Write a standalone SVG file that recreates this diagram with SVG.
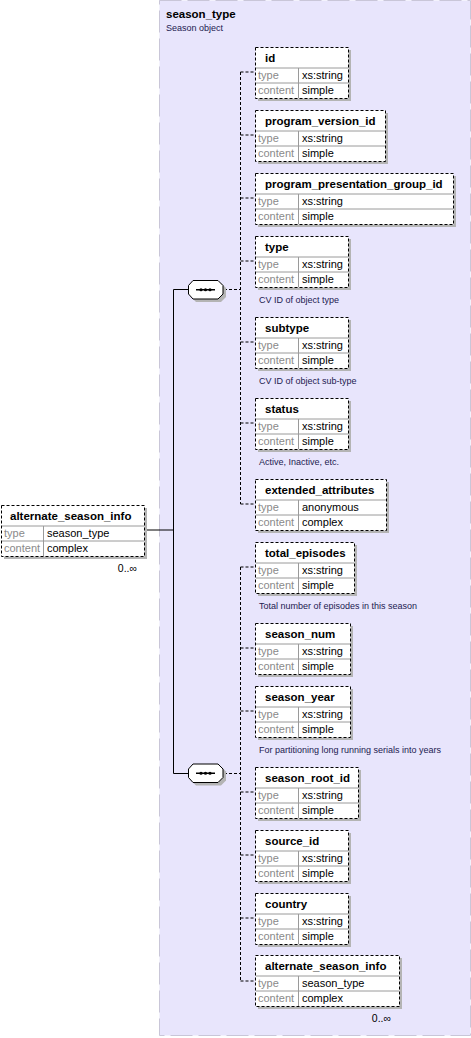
<svg xmlns="http://www.w3.org/2000/svg" width="471" height="1038" viewBox="0 0 471 1038">
<style>
text{font-family:"Liberation Sans",Arial,sans-serif}
.panel{fill:#E8E5FC;stroke:#C9C6D8;stroke-width:1;stroke-dasharray:22,6}
.shadow{fill:#B4B4B4}
.box{fill:#FFFFFF;stroke:#000;stroke-width:1;stroke-dasharray:3,2}
.sep{stroke:#9A9A9A;stroke-width:1}
.title{font-size:11.5px;font-weight:bold;fill:#000}
.lbl{font-size:11px;fill:#8A8A8A}
.val{font-size:11px;fill:#000}
.desc{font-size:9px;fill:#1C2050}
.occ{font-size:10.5px;fill:#000}
.solid{stroke:#000;stroke-width:1;fill:none}
.dash{stroke:#000;stroke-width:1;fill:none;stroke-dasharray:3,2}
.seq{fill:#FFFFFF;stroke:#000;stroke-width:1}
</style>
<defs>
<g id="seqsym">
<polygon class="shadow" points="8,3 33,3 38,8 38,17 33,22 8,22 3,17 3,8"/>
<polygon class="seq" points="5,0.5 30,0.5 35,5.5 35,14 30,19 5,19 0.5,14 0.5,5.5"/>
<line x1="8" y1="9.75" x2="27" y2="9.75" stroke="#000" stroke-width="1.5"/>
<circle cx="13" cy="9.75" r="1.6" fill="#000"/>
<circle cx="17.5" cy="9.75" r="1.6" fill="#000"/>
<circle cx="22" cy="9.75" r="1.6" fill="#000"/>
</g>
</defs>
<rect width="471" height="1038" fill="#FFFFFF"/>
<g id="season_type">
<rect class="panel" x="159.5" y="0.5" width="311" height="1035"/>
<text class="title" x="166" y="18">season_type</text>
<text class="desc" x="166" y="31">Season object</text>
</g>
<g id="connectors">
<polyline class="solid" points="144,530 173.5,530"/>
<line class="solid" x1="173.5" y1="289.5" x2="173.5" y2="773.5"/>
<line class="solid" x1="173.5" y1="289.5" x2="188" y2="289.5"/>
<line class="solid" x1="173.5" y1="773.5" x2="188" y2="773.5"/>
<line class="dash" x1="224" y1="289.5" x2="240.5" y2="289.5"/>
<line class="dash" x1="224" y1="773.5" x2="240.5" y2="773.5"/>
<line class="dash" x1="240.5" y1="72" x2="240.5" y2="504"/>
<line class="dash" x1="240.5" y1="567" x2="240.5" y2="981"/>
<line class="dash" x1="240.5" y1="72" x2="255" y2="72"/>
<line class="dash" x1="240.5" y1="135" x2="255" y2="135"/>
<line class="dash" x1="240.5" y1="198" x2="255" y2="198"/>
<line class="dash" x1="240.5" y1="261" x2="255" y2="261"/>
<line class="dash" x1="240.5" y1="342" x2="255" y2="342"/>
<line class="dash" x1="240.5" y1="423" x2="255" y2="423"/>
<line class="dash" x1="240.5" y1="504" x2="255" y2="504"/>
<line class="dash" x1="240.5" y1="567" x2="255" y2="567"/>
<line class="dash" x1="240.5" y1="648" x2="255" y2="648"/>
<line class="dash" x1="240.5" y1="711" x2="255" y2="711"/>
<line class="dash" x1="240.5" y1="792" x2="255" y2="792"/>
<line class="dash" x1="240.5" y1="855" x2="255" y2="855"/>
<line class="dash" x1="240.5" y1="918" x2="255" y2="918"/>
<line class="dash" x1="240.5" y1="981" x2="255" y2="981"/>
</g>
<g id="sequence1"><use href="#seqsym" x="188" y="280"/></g>
<g id="sequence2"><use href="#seqsym" x="188" y="763.5"/></g>

<g id="node_alternate_root" transform="translate(1,505)">
<rect class="shadow" x="3" y="3" width="143" height="51"/>
<rect class="box" x="0.5" y="0.5" width="143" height="51"/>
<line class="sep" x1="1" y1="21" x2="143" y2="21"/><line class="sep" x1="1" y1="36" x2="143" y2="36"/><line class="sep" x1="42.5" y1="21" x2="42.5" y2="51"/>
<text class="title" x="9" y="15">alternate_season_info</text>
<text class="lbl" x="3" y="32">type</text><text class="val" x="46" y="32">season_type</text>
<text class="lbl" x="3" y="47">content</text><text class="val" x="46" y="47">complex</text>
<text class="occ" x="136" y="67" text-anchor="end">0..∞</text>
</g>

<g id="node_id" transform="translate(255,47)">
<rect class="shadow" x="3" y="3" width="93" height="51"/>
<rect class="box" x="0.5" y="0.5" width="93" height="51"/>
<line class="sep" x1="1" y1="21" x2="93" y2="21"/><line class="sep" x1="1" y1="36" x2="93" y2="36"/><line class="sep" x1="43.5" y1="21" x2="43.5" y2="51"/>
<text class="title" x="10" y="15">id</text>
<text class="lbl" x="3" y="32">type</text><text class="val" x="47" y="32">xs:string</text>
<text class="lbl" x="3" y="47">content</text><text class="val" x="47" y="47">simple</text>
</g>

<g id="node_program_version_id" transform="translate(255,110)">
<rect class="shadow" x="3" y="3" width="130" height="51"/>
<rect class="box" x="0.5" y="0.5" width="130" height="51"/>
<line class="sep" x1="1" y1="21" x2="130" y2="21"/><line class="sep" x1="1" y1="36" x2="130" y2="36"/><line class="sep" x1="43.5" y1="21" x2="43.5" y2="51"/>
<text class="title" x="10" y="15">program_version_id</text>
<text class="lbl" x="3" y="32">type</text><text class="val" x="47" y="32">xs:string</text>
<text class="lbl" x="3" y="47">content</text><text class="val" x="47" y="47">simple</text>
</g>

<g id="node_program_presentation_group_id" transform="translate(255,173)">
<rect class="shadow" x="3" y="3" width="198" height="51"/>
<rect class="box" x="0.5" y="0.5" width="198" height="51"/>
<line class="sep" x1="1" y1="21" x2="198" y2="21"/><line class="sep" x1="1" y1="36" x2="198" y2="36"/><line class="sep" x1="43.5" y1="21" x2="43.5" y2="51"/>
<text class="title" x="10" y="15">program_presentation_group_id</text>
<text class="lbl" x="3" y="32">type</text><text class="val" x="47" y="32">xs:string</text>
<text class="lbl" x="3" y="47">content</text><text class="val" x="47" y="47">simple</text>
</g>

<g id="node_type" transform="translate(255,236)">
<rect class="shadow" x="3" y="3" width="93" height="51"/>
<rect class="box" x="0.5" y="0.5" width="93" height="51"/>
<line class="sep" x1="1" y1="21" x2="93" y2="21"/><line class="sep" x1="1" y1="36" x2="93" y2="36"/><line class="sep" x1="43.5" y1="21" x2="43.5" y2="51"/>
<text class="title" x="10" y="15">type</text>
<text class="lbl" x="3" y="32">type</text><text class="val" x="47" y="32">xs:string</text>
<text class="lbl" x="3" y="47">content</text><text class="val" x="47" y="47">simple</text>
<text class="desc" x="4" y="67">CV ID of object type</text>
</g>

<g id="node_subtype" transform="translate(255,317)">
<rect class="shadow" x="3" y="3" width="93" height="51"/>
<rect class="box" x="0.5" y="0.5" width="93" height="51"/>
<line class="sep" x1="1" y1="21" x2="93" y2="21"/><line class="sep" x1="1" y1="36" x2="93" y2="36"/><line class="sep" x1="43.5" y1="21" x2="43.5" y2="51"/>
<text class="title" x="10" y="15">subtype</text>
<text class="lbl" x="3" y="32">type</text><text class="val" x="47" y="32">xs:string</text>
<text class="lbl" x="3" y="47">content</text><text class="val" x="47" y="47">simple</text>
<text class="desc" x="4" y="67">CV ID of object sub-type</text>
</g>

<g id="node_status" transform="translate(255,398)">
<rect class="shadow" x="3" y="3" width="93" height="51"/>
<rect class="box" x="0.5" y="0.5" width="93" height="51"/>
<line class="sep" x1="1" y1="21" x2="93" y2="21"/><line class="sep" x1="1" y1="36" x2="93" y2="36"/><line class="sep" x1="43.5" y1="21" x2="43.5" y2="51"/>
<text class="title" x="10" y="15">status</text>
<text class="lbl" x="3" y="32">type</text><text class="val" x="47" y="32">xs:string</text>
<text class="lbl" x="3" y="47">content</text><text class="val" x="47" y="47">simple</text>
<text class="desc" x="4" y="67">Active, Inactive, etc.</text>
</g>

<g id="node_extended_attributes" transform="translate(255,479)">
<rect class="shadow" x="3" y="3" width="131" height="51"/>
<rect class="box" x="0.5" y="0.5" width="131" height="51"/>
<line class="sep" x1="1" y1="21" x2="131" y2="21"/><line class="sep" x1="1" y1="36" x2="131" y2="36"/><line class="sep" x1="43.5" y1="21" x2="43.5" y2="51"/>
<text class="title" x="10" y="15">extended_attributes</text>
<text class="lbl" x="3" y="32">type</text><text class="val" x="47" y="32">anonymous</text>
<text class="lbl" x="3" y="47">content</text><text class="val" x="47" y="47">complex</text>
</g>

<g id="node_total_episodes" transform="translate(255,542)">
<rect class="shadow" x="3" y="3" width="99" height="51"/>
<rect class="box" x="0.5" y="0.5" width="99" height="51"/>
<line class="sep" x1="1" y1="21" x2="99" y2="21"/><line class="sep" x1="1" y1="36" x2="99" y2="36"/><line class="sep" x1="43.5" y1="21" x2="43.5" y2="51"/>
<text class="title" x="10" y="15">total_episodes</text>
<text class="lbl" x="3" y="32">type</text><text class="val" x="47" y="32">xs:string</text>
<text class="lbl" x="3" y="47">content</text><text class="val" x="47" y="47">simple</text>
<text class="desc" x="4" y="67">Total number of episodes in this season</text>
</g>

<g id="node_season_num" transform="translate(255,623)">
<rect class="shadow" x="3" y="3" width="95" height="51"/>
<rect class="box" x="0.5" y="0.5" width="95" height="51"/>
<line class="sep" x1="1" y1="21" x2="95" y2="21"/><line class="sep" x1="1" y1="36" x2="95" y2="36"/><line class="sep" x1="43.5" y1="21" x2="43.5" y2="51"/>
<text class="title" x="10" y="15">season_num</text>
<text class="lbl" x="3" y="32">type</text><text class="val" x="47" y="32">xs:string</text>
<text class="lbl" x="3" y="47">content</text><text class="val" x="47" y="47">simple</text>
</g>

<g id="node_season_year" transform="translate(255,686)">
<rect class="shadow" x="3" y="3" width="95" height="51"/>
<rect class="box" x="0.5" y="0.5" width="95" height="51"/>
<line class="sep" x1="1" y1="21" x2="95" y2="21"/><line class="sep" x1="1" y1="36" x2="95" y2="36"/><line class="sep" x1="43.5" y1="21" x2="43.5" y2="51"/>
<text class="title" x="10" y="15">season_year</text>
<text class="lbl" x="3" y="32">type</text><text class="val" x="47" y="32">xs:string</text>
<text class="lbl" x="3" y="47">content</text><text class="val" x="47" y="47">simple</text>
<text class="desc" x="4" y="67">For partitioning long running serials into years</text>
</g>

<g id="node_season_root_id" transform="translate(255,767)">
<rect class="shadow" x="3" y="3" width="103" height="51"/>
<rect class="box" x="0.5" y="0.5" width="103" height="51"/>
<line class="sep" x1="1" y1="21" x2="103" y2="21"/><line class="sep" x1="1" y1="36" x2="103" y2="36"/><line class="sep" x1="43.5" y1="21" x2="43.5" y2="51"/>
<text class="title" x="10" y="15">season_root_id</text>
<text class="lbl" x="3" y="32">type</text><text class="val" x="47" y="32">xs:string</text>
<text class="lbl" x="3" y="47">content</text><text class="val" x="47" y="47">simple</text>
</g>

<g id="node_source_id" transform="translate(255,830)">
<rect class="shadow" x="3" y="3" width="93" height="51"/>
<rect class="box" x="0.5" y="0.5" width="93" height="51"/>
<line class="sep" x1="1" y1="21" x2="93" y2="21"/><line class="sep" x1="1" y1="36" x2="93" y2="36"/><line class="sep" x1="43.5" y1="21" x2="43.5" y2="51"/>
<text class="title" x="10" y="15">source_id</text>
<text class="lbl" x="3" y="32">type</text><text class="val" x="47" y="32">xs:string</text>
<text class="lbl" x="3" y="47">content</text><text class="val" x="47" y="47">simple</text>
</g>

<g id="node_country" transform="translate(255,893)">
<rect class="shadow" x="3" y="3" width="93" height="51"/>
<rect class="box" x="0.5" y="0.5" width="93" height="51"/>
<line class="sep" x1="1" y1="21" x2="93" y2="21"/><line class="sep" x1="1" y1="36" x2="93" y2="36"/><line class="sep" x1="43.5" y1="21" x2="43.5" y2="51"/>
<text class="title" x="10" y="15">country</text>
<text class="lbl" x="3" y="32">type</text><text class="val" x="47" y="32">xs:string</text>
<text class="lbl" x="3" y="47">content</text><text class="val" x="47" y="47">simple</text>
</g>

<g id="node_alternate_season_info" transform="translate(255,955)">
<rect class="shadow" x="3" y="3" width="144" height="51"/>
<rect class="box" x="0.5" y="0.5" width="144" height="51"/>
<line class="sep" x1="1" y1="21" x2="144" y2="21"/><line class="sep" x1="1" y1="36" x2="144" y2="36"/><line class="sep" x1="43.5" y1="21" x2="43.5" y2="51"/>
<text class="title" x="10" y="15">alternate_season_info</text>
<text class="lbl" x="3" y="32">type</text><text class="val" x="47" y="32">season_type</text>
<text class="lbl" x="3" y="47">content</text><text class="val" x="47" y="47">complex</text>
<text class="occ" x="136" y="67" text-anchor="end">0..∞</text>
</g>
</svg>
